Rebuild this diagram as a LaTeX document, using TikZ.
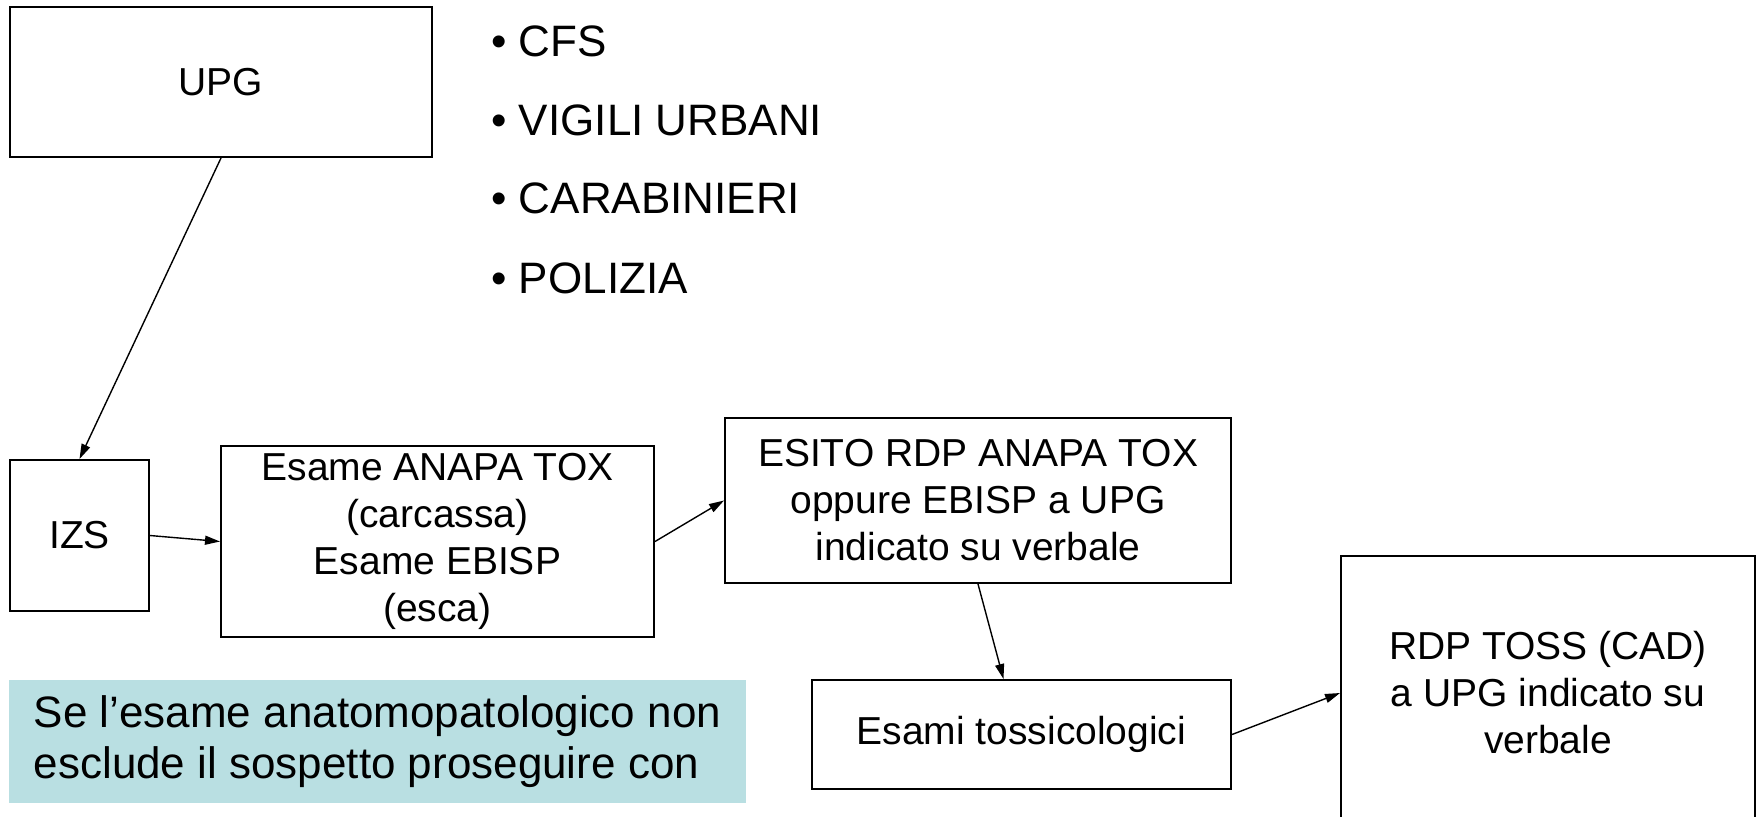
\documentclass[tikz,border=0pt]{standalone}
\usepackage{fontspec}
\setmainfont{Liberation Sans}
\usetikzlibrary{arrows.meta}
\definecolor{notecolor}{RGB}{185,223,226}
\tikzset{
  box/.style={draw, line width=1pt, align=center, inner sep=0pt, font=\fontsize{19.5}{23.5}\selectfont},
  item/.style={anchor=base west, inner sep=0pt, font=\fontsize{22}{26}\selectfont},
  arr/.style={-{Triangle[length=7.5pt,width=4.5pt]}, line width=0.7pt}
}

\begin{document}
\begin{tikzpicture}[x=0.5pt,y=-0.5pt]
    \useasboundingbox (0,0) rectangle (1759,816);

    \node[box, minimum width=211pt, minimum height=75pt] (upg) at (221,82) {UPG};

    \node[item] (cfs) at (491,56) {• CFS};
    \node[item] (vigili) at (491,135) {• VIGILI URBANI};
    \node[item] (carabinieri) at (491,213) {• CARABINIERI};
    \node[item] (polizia) at (491,293) {• POLIZIA};

    \node[box, minimum width=69.5pt, minimum height=75.5pt] (izs) at (79.5,535.5) {IZS};
    \node[box, minimum width=216.5pt, minimum height=95.5pt] (esame) at (437.5,541.5)
        {Esame ANAPA TOX\\(carcassa)\\Esame EBISP\\(esca)};
    \node[box, minimum width=253pt, minimum height=82.5pt] (esito) at (978,500.5)
        {ESITO RDP ANAPA TOX\\oppure EBISP a UPG\\indicato su verbale};
    \node[box, minimum width=209.5pt, minimum height=54.5pt] (tossico) at (1021.5,734.5)
        {Esami tossicologici};
    \node[box, minimum width=207pt, minimum height=137pt] (rdp) at (1548,693)
        {RDP TOSS (CAD)\\a UPG indicato su\\verbale};

    \node[fill=notecolor, minimum width=368.5pt, minimum height=61.5pt, inner sep=0pt,
          align=left, font=\fontsize{22}{25.5}\selectfont] (nota) at (377.5,741.5)
        {Se l’esame anatomopatologico non\\esclude il sospetto proseguire con};

    \draw[arr] (upg.south) -- (izs.north);
    \draw[arr] (izs.east) -- (esame.west);
    \draw[arr] (esame.east) -- (esito.west);
    \draw[arr] (esito.south) -- ([xshift=-9pt]tossico.north);
    \draw[arr] (tossico.east) -- (rdp.west);

\end{tikzpicture}
\end{document}
